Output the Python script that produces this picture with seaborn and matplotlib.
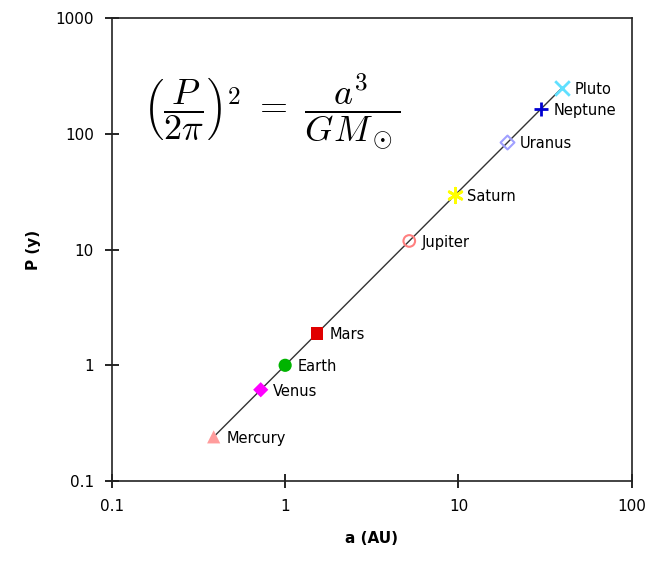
import numpy as np
import matplotlib
matplotlib.use("Agg")
import matplotlib.pyplot as plt
import seaborn as sns

planets = ["Mercury", "Venus", "Earth", "Mars", "Jupiter", "Saturn", "Uranus", "Neptune", "Pluto"]
a_au = [0.387, 0.723, 1.0, 1.524, 5.203, 9.537, 19.19, 30.07, 39.48]
p_yr = [0.241, 0.615, 1.0, 1.881, 11.86, 29.46, 84.01, 164.8, 248.0]
colors = ["#ff9c9c", "#ff00ff", "#00b400", "#e00000", "#ff8080", "#ffff00", "#a0a0ff", "#0000d0", "#60e0ff"]
markers = ["^", "D", "o", "s", "o", (6, 2, 0), "D", "+", "x"]
hollow = [False, False, False, False, True, False, True, False, False]
sizes = [90, 60, 90, 80, 70, 110, 50, 110, 110]

sns.set_style("ticks")
plt.rcParams["font.family"] = ["DejaVu Sans"]
plt.rcParams["mathtext.fontset"] = "cm"
plt.rcParams["text.color"] = "black"
plt.rcParams["xtick.color"] = "black"
plt.rcParams["ytick.color"] = "black"
plt.rcParams["axes.labelcolor"] = "black"

fig, ax = plt.subplots(figsize=(6.54, 5.62), dpi=100)
fig.subplots_adjust(left=0.171, right=0.966, top=0.968, bottom=0.144)

sns.lineplot(x=a_au, y=p_yr, ax=ax, color="#333333", lw=1, sort=False)

for name, a, p, c, m, h, s in zip(planets, a_au, p_yr, colors, markers, hollow, sizes):
    if h:
        ax.scatter([a], [p], s=s, marker=m, facecolors="none", edgecolors=c, linewidths=1.5, zorder=3)
    elif m in ("x", "+", (6, 2, 0)):
        ax.scatter([a], [p], s=s, marker=m, color=c, linewidths=2, zorder=3)
    else:
        ax.scatter([a], [p], s=s, marker=m, color=c, edgecolors="none", zorder=3)
    ax.annotate(name, (a, p), xytext=(9, -1), textcoords="offset points",
                va="center", ha="left", fontsize=10.5)

ax.set_xscale("log")
ax.set_yscale("log")
ax.set_xlim(0.1, 100)
ax.set_ylim(0.1, 1000)
ax.set_xticks([0.1, 1, 10, 100])
ax.set_xticklabels(["0.1", "1", "10", "100"])
ax.set_yticks([0.1, 1, 10, 100, 1000])
ax.set_yticklabels(["0.1", "1", "10", "100", "1000"])
ax.minorticks_off()
ax.tick_params(direction="inout", length=10, width=1.2, labelsize=11, pad=8)
for sp in ax.spines.values():
    sp.set_linewidth(1.2)
    sp.set_color("#222222")

ax.set_xlabel("a (AU)", fontsize=11, fontweight="bold", labelpad=12)
ax.set_ylabel("P (y)", fontsize=11, fontweight="bold", labelpad=10)

ax.text(0.308, 0.797, r"$\left(\dfrac{P}{2\pi}\right)^2\ =\ \dfrac{a^3}{GM_\odot}$",
        transform=ax.transAxes, ha="center", va="center", fontsize=26)

fig.savefig("out.png", dpi=100)
